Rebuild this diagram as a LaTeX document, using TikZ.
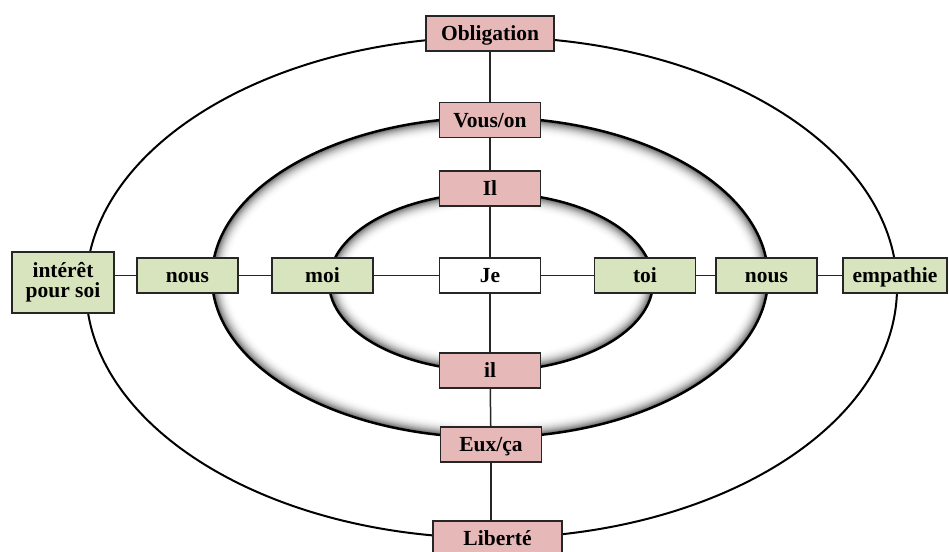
\documentclass[tikz,border=0pt]{standalone}
\usepackage{fontspec}
\setmainfont{Liberation Serif}
\definecolor{pinkf}{HTML}{E6B9B8}
\definecolor{greenf}{HTML}{D7E4BD}
\tikzset{
  box/.style={draw=black!85, line width=1.4pt, minimum width=101pt,
    minimum height=35pt, inner sep=2pt, align=center,
    text height=17pt, text depth=2.8pt,
    font=\fontsize{21.5}{23}\selectfont\bfseries, text=black},
  pinkbox/.style={box, fill=pinkf},
  greenbox/.style={box, fill=greenf},
  whitebox/.style={box, fill=white},
  ring/.style={draw=black, line width=2.5pt},
  link/.style={draw=black!85, line width=1.5pt}
}
\newcommand{\glowellipse}[3]{%
  \begin{scope}
    \clip #1 ellipse [x radius=#2, y radius=#3];
    \fill[white] #1 ellipse [x radius=#2, y radius=#3];
    \foreach \d in {16,15,...,1}{
      \pgfmathsetmacro{\shade}{60*((17-\d)/16)^2.4}
      \draw[black!\shade, line width=2*\d pt] #1 ellipse [x radius=#2, y radius=#3];
    }
  \end{scope}
  \draw[ring] #1 ellipse [x radius=#2, y radius=#3];
}
\begin{document}
\begin{tikzpicture}[x=1pt,y=-1pt]
\useasboundingbox (0,0) rectangle (949,551);
% rings
\draw[line width=2pt] (491.5,287.5) ellipse [x radius=405.5, y radius=250.5];
\glowellipse{(490,277.5)}{278}{160}
\glowellipse{(491,282)}{162}{89}
% nodes
\node[pinkbox, minimum width=128pt] (obl) at (490,33.5) {Obligation};
\node[pinkbox] (vous) at (490,120) {Vous/on};
\node[pinkbox] (Il) at (490,188.5) {Il};
\node[whitebox] (je) at (490,275.5) {Je};
\node[pinkbox] (il) at (490,370.5) {il};
\node[pinkbox] (eux) at (491,444.5) {Eux/ça};
\node[pinkbox, minimum width=129pt] (lib) at (497.5,538.5) {Liberté};
\node[greenbox, minimum width=102pt, minimum height=61pt, text height=, text depth=] (int) at (63,282.5) {intérêt\\[-3pt]pour soi};
\node[greenbox] (nousL) at (187.5,275.5) {nous};
\node[greenbox] (moi) at (322.5,275.5) {moi};
\node[greenbox] (toi) at (645,275.5) {toi};
\node[greenbox] (nousR) at (766.5,275.5) {nous};
\node[greenbox, minimum width=104pt] (emp) at (895,275.5) {empathie};
% connectors
\draw[link] (obl) -- (vous);
\draw[link] (vous) -- (Il);
\draw[link] (Il) -- (je);
\draw[link] (je) -- (il);
\draw[link] (il) -- (eux);
\draw[link] (eux) -- (eux |- lib.north);
\draw[link] (int.east |- nousL.west) -- (nousL);
\draw[link] (nousL) -- (moi);
\draw[link] (moi) -- (je);
\draw[link] (je) -- (toi);
\draw[link] (toi) -- (nousR);
\draw[link] (nousR) -- (emp);
\end{tikzpicture}
\end{document}
